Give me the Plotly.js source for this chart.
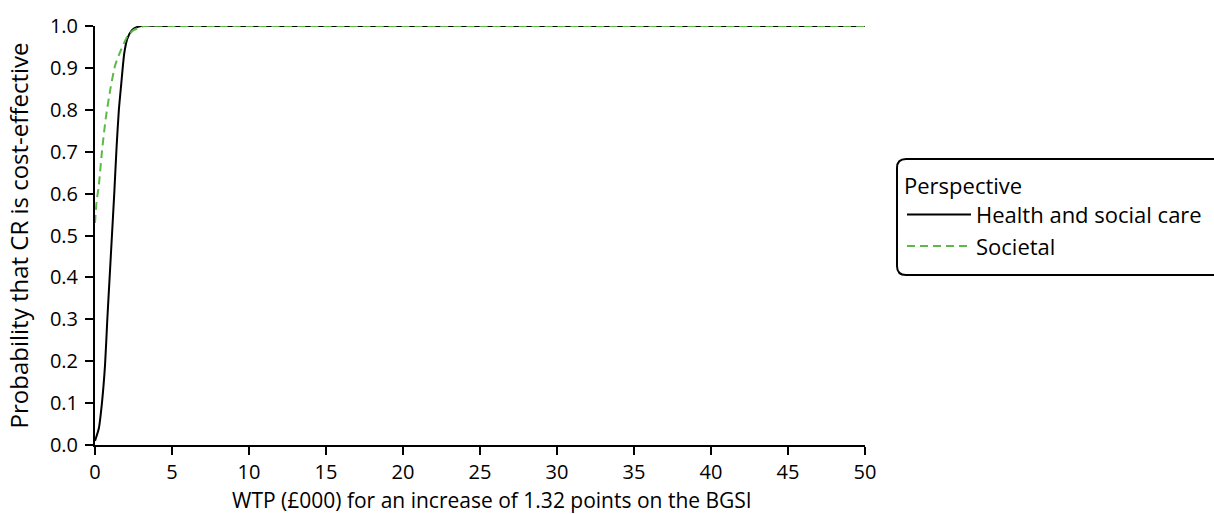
<!DOCTYPE html>
<html>
<head>
<meta charset="utf-8">
<script src="https://cdn.plot.ly/plotly-3.0.1.min.js"></script>
<style>html,body{margin:0;padding:0;background:#fff;}#chart{width:1214px;height:514px;}</style>
</head>
<body>
<div id="chart"></div>
<script>
// WTP (£000) values and probability that CR is cost-effective
const healthX = [0, 0.25, 0.45, 0.65, 0.8, 0.95, 1.1, 1.25, 1.4, 1.55, 1.7, 1.9, 2.1, 2.4, 2.7, 3.0, 5, 10, 20, 30, 40, 50];
const healthY = [0.01, 0.04, 0.10, 0.19, 0.30, 0.40, 0.50, 0.60, 0.71, 0.80, 0.86, 0.935, 0.97, 0.99, 0.997, 1.0, 1.0, 1.0, 1.0, 1.0, 1.0, 1.0];
const societalX = [0, 0.1, 0.25, 0.45, 0.7, 1.0, 1.3, 1.6, 2.1, 2.5, 2.8, 3.2, 5, 10, 20, 30, 40, 50];
const societalY = [0.53, 0.58, 0.62, 0.70, 0.78, 0.85, 0.905, 0.935, 0.975, 0.99, 0.995, 1.0, 1.0, 1.0, 1.0, 1.0, 1.0, 1.0];
const seriesNames = ["Health and social care", "Societal"];
const xTicks = [0, 5, 10, 15, 20, 25, 30, 35, 40, 45, 50];
const yTicks = [0, 0.1, 0.2, 0.3, 0.4, 0.5, 0.6, 0.7, 0.8, 0.9, 1.0];
const xTitle = "WTP (£000) for an increase of 1.32 points on the BGSI";
const yTitle = "Probability that CR is cost-effective";

const FONT = "Open Sans, Noto Sans, sans-serif";
const traces = [
  {x: healthX, y: healthY, name: seriesNames[0], type: "scatter", mode: "lines",
   line: {color: "#000000", width: 2, shape: "spline", smoothing: 0.6}},
  {x: societalX, y: societalY, name: seriesNames[1], type: "scatter", mode: "lines",
   line: {color: "#5cb946", width: 2, dash: "8px,5px", shape: "spline", smoothing: 0.6}}
];

const L = 95, R = 865, T = 26, B = 445;
const pw = R - L, ph = B - T;
function px2x(p){ return (p - L) / pw; }
function px2y(p){ return (B - p) / ph; }
const bx0 = px2x(897), bx1 = px2x(1240), by0 = px2y(275), by1 = px2y(159);
const rx = 9 / pw, ry = 9 / ph;
const boxPath = `M ${bx1},${by1} L ${bx0+rx},${by1} Q ${bx0},${by1} ${bx0},${by1-ry} L ${bx0},${by0+ry} Q ${bx0},${by0} ${bx0+rx},${by0} L ${bx1},${by0}`;

const layout = {
  width: 1214, height: 514,
  margin: {l: L, r: 1214 - R, t: T, b: 514 - B, autoexpand: false},
  paper_bgcolor: "#ffffff", plot_bgcolor: "#ffffff",
  font: {family: FONT, size: 20, color: "#000000"},
  showlegend: true,
  legend: {
    x: px2x(902), y: px2y(165), xanchor: "left", yanchor: "top",
    title: {text: "Perspective", font: {family: FONT, size: 22, color: "#000"}},
    font: {family: FONT, size: 22, color: "#000"},
    bgcolor: "rgba(0,0,0,0)", borderwidth: 0, itemwidth: 64, tracegroupgap: 0
  },
  xaxis: {
    range: [0, 50], tickvals: xTicks, ticktext: xTicks.map(String), automargin: false,
    showgrid: false, zeroline: false, showline: true, linecolor: "#000", linewidth: 2,
    ticks: "outside", ticklen: 8, tickwidth: 2, tickcolor: "#000",
    tickfont: {family: FONT, size: 20, color: "#000"}
  },
  yaxis: {
    range: [0, 1.0], tickvals: yTicks, ticktext: yTicks.map(v => v.toFixed(1)), automargin: false,
    showgrid: false, zeroline: false, showline: true, linecolor: "#000", linewidth: 2,
    ticks: "outside", ticklen: 8, tickwidth: 2, tickcolor: "#000", ticklabelstandoff: 3,
    tickfont: {family: FONT, size: 20, color: "#000"},
    title: {text: yTitle, font: {family: FONT, size: 24, color: "#000"}, standoff: 14}
  },
  annotations: [
    {text: xTitle, xref: "paper", yref: "paper", x: px2x(492), y: px2y(499.5),
     xanchor: "center", yanchor: "middle", showarrow: false,
     font: {family: FONT, size: 21, color: "#000"}}
  ],
  shapes: [
    {type: "path", xref: "paper", yref: "paper", path: boxPath, line: {color: "#000", width: 2}, fillcolor: "rgba(0,0,0,0)", layer: "above"}
  ]
};

Plotly.newPlot("chart", traces, layout, {displayModeBar: false, staticPlot: true});
</script>
</body>
</html>
